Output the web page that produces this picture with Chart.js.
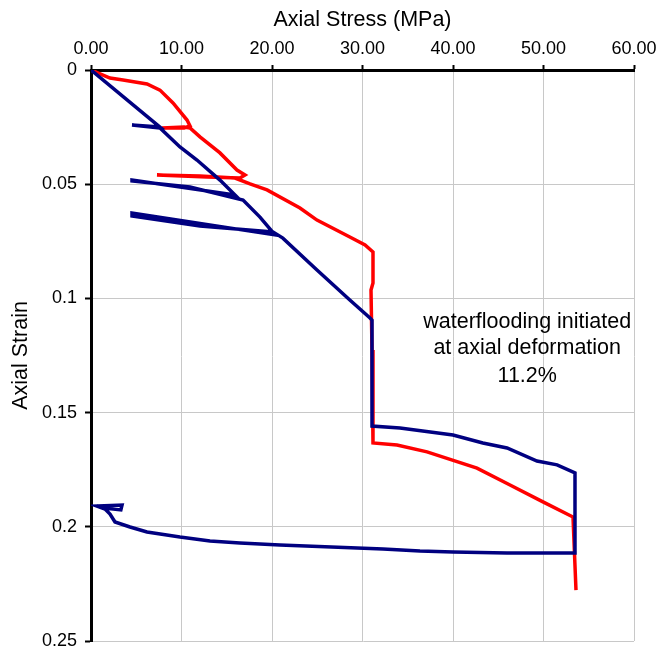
<!DOCTYPE html>
<html>
<head>
<meta charset="utf-8">
<script src="https://cdn.jsdelivr.net/npm/chart.js@4.4.1/dist/chart.umd.min.js"></script>
<style>
  html, body { margin: 0; padding: 0; background: #fff; }
  #wrap { width: 660px; height: 651px; }
</style>
</head>
<body>
<div id="wrap"><canvas id="myChart" width="660" height="651"></canvas></div>
<script>
// axial stress (MPa) / axial strain pairs
const stressBlue = [0, 7.62, 4.53, 7.62, 9.83, 11.71, 14.25, 15.91, 4.53, 4.53, 10.94, 16.8, 18.67, 20.33, 4.53, 4.53, 12.04, 20.1, 21.2, 24.97, 28.6, 30.83, 31.05, 31.05, 34.14, 40.0, 43.3, 45.97, 49.28, 51.5, 53.48, 53.48, 45.97, 40.0, 36.35, 32.27, 20.88, 16.46, 13.15, 9.83, 6.19, 4.31, 2.65, 2.1, 1.55, 0.66, 3.43, 3.3, 1.44];
const strainBlue = [0, 0.0250, 0.0241, 0.0254, 0.0337, 0.0394, 0.0482, 0.0547, 0.0482, 0.0486, 0.0512, 0.0569, 0.0644, 0.0722, 0.0626, 0.0639, 0.0683, 0.0709, 0.0736, 0.0876, 0.1007, 0.1086, 0.1095, 0.1559, 0.1567, 0.1598, 0.1633, 0.1655, 0.1712, 0.1729, 0.1764, 0.2115, 0.2115, 0.2110, 0.2106, 0.2097, 0.2080, 0.2071, 0.2062, 0.2045, 0.2023, 0.2001, 0.1979, 0.1944, 0.1922, 0.1909, 0.1905, 0.1926, 0.1918];

const stressRed = [0, 2.1, 3.54, 6.19, 7.62, 9.06, 10.61, 10.94, 10.28, 7.85, 10.28, 10.94, 12.04, 14.25, 16.13, 17.02, 16.46, 12.82, 7.29, 12.04, 15.91, 17.57, 19.45, 23.09, 24.97, 28.6, 30.28, 31.16, 31.16, 30.94, 31.05, 31.16, 33.81, 37.13, 42.65, 46.3, 49.94, 53.26, 53.59];
const strainRed = [0, 0.0035, 0.0044, 0.0061, 0.0088, 0.0144, 0.0219, 0.0245, 0.0254, 0.0254, 0.0250, 0.0254, 0.0293, 0.0363, 0.0438, 0.0460, 0.0473, 0.0468, 0.0460, 0.0464, 0.0473, 0.0499, 0.0525, 0.0604, 0.0657, 0.0731, 0.0766, 0.0797, 0.0933, 0.0963, 0.1226, 0.1633, 0.1642, 0.1672, 0.1743, 0.1817, 0.1891, 0.1957, 0.2277];

const noteLines = ["waterflooding initiated", "at axial deformation", "11.2%"];
const noteX = 48.2;
const noteY = [0.1103, 0.1217, 0.134];

const fontFam = '"Liberation Sans", Arial, sans-serif';

function toPoints(xs, ys) {
    const pts = [];
    for (let i = 0; i < xs.length; i++) {
        pts.push({ x: xs[i], y: ys[i] });
    }
    return pts;
}

// draws the note text in data coordinates
const notePlugin = {
    id: 'note',
    afterDatasetsDraw(chart) {
        const ctx = chart.ctx;
        const xs = chart.scales.x;
        const ys = chart.scales.y;
        ctx.save();
        ctx.font = '21.5px ' + fontFam;
        ctx.fillStyle = '#000';
        ctx.textAlign = 'center';
        ctx.textBaseline = 'middle';
        for (let i = 0; i < noteLines.length; i++) {
            ctx.fillText(noteLines[i], xs.getPixelForValue(noteX), ys.getPixelForValue(noteY[i]));
        }
        ctx.restore();
    }
};

const ctx = document.getElementById('myChart').getContext('2d');
const myChart = new Chart(ctx, {
    type: 'scatter',
    data: {
        datasets: [{
            label: 'blue',
            data: toPoints(stressBlue, strainBlue),
            showLine: true,
            borderColor: '#000080',
            borderWidth: 3.5,
            pointRadius: 0,
            tension: 0
        }, {
            label: 'red',
            data: toPoints(stressRed, strainRed),
            showLine: true,
            borderColor: '#ff0000',
            borderWidth: 3.5,
            pointRadius: 0,
            tension: 0
        }]
    },
    options: {
        responsive: false,
        animation: false,
        layout: { padding: { top: 0, right: 26, bottom: 10, left: 0 } },
        plugins: {
            legend: { display: false },
            tooltip: { enabled: false }
        },
        scales: {
            x: {
                type: 'linear',
                position: 'top',
                min: 0,
                max: 60,
                afterFit(scale) {
                    scale.height = 70;
                    scale.paddingLeft = 0;
                    scale.paddingRight = 0;
                },
                ticks: {
                    stepSize: 10,
                    color: '#000',
                    font: { family: fontFam, size: 18 },
                    padding: 5,
                    maxRotation: 0,
                    callback: (v) => v.toFixed(2)
                },
                grid: { color: '#c8c8c8', lineWidth: 1, tickLength: 5, tickColor: '#000', tickWidth: 2 },
                border: { color: '#000', width: 3 },
                title: {
                    display: true,
                    text: 'Axial Stress (MPa)',
                    color: '#000',
                    font: { family: fontFam, size: 21.5 },
                    padding: { top: 7, bottom: 0 }
                }
            },
            y: {
                type: 'linear',
                reverse: true,
                min: 0,
                max: 0.25,
                afterFit(scale) {
                    scale.width = 91;
                    scale.paddingTop = 0;
                    scale.paddingBottom = 0;
                },
                ticks: {
                    stepSize: 0.05,
                    color: '#000',
                    font: { family: fontFam, size: 18 },
                    padding: 8,
                    callback: (v) => String(Math.round(v * 100) / 100)
                },
                grid: { color: '#c8c8c8', lineWidth: 1, tickLength: 6, tickColor: '#000', tickWidth: 2 },
                border: { color: '#000', width: 3 },
                title: {
                    display: true,
                    text: 'Axial Strain',
                    color: '#000',
                    font: { family: fontFam, size: 21.5 },
                    padding: { top: 8, bottom: 0 }
                }
            }
        }
    },
    plugins: [notePlugin]
});
</script>
</body>
</html>
